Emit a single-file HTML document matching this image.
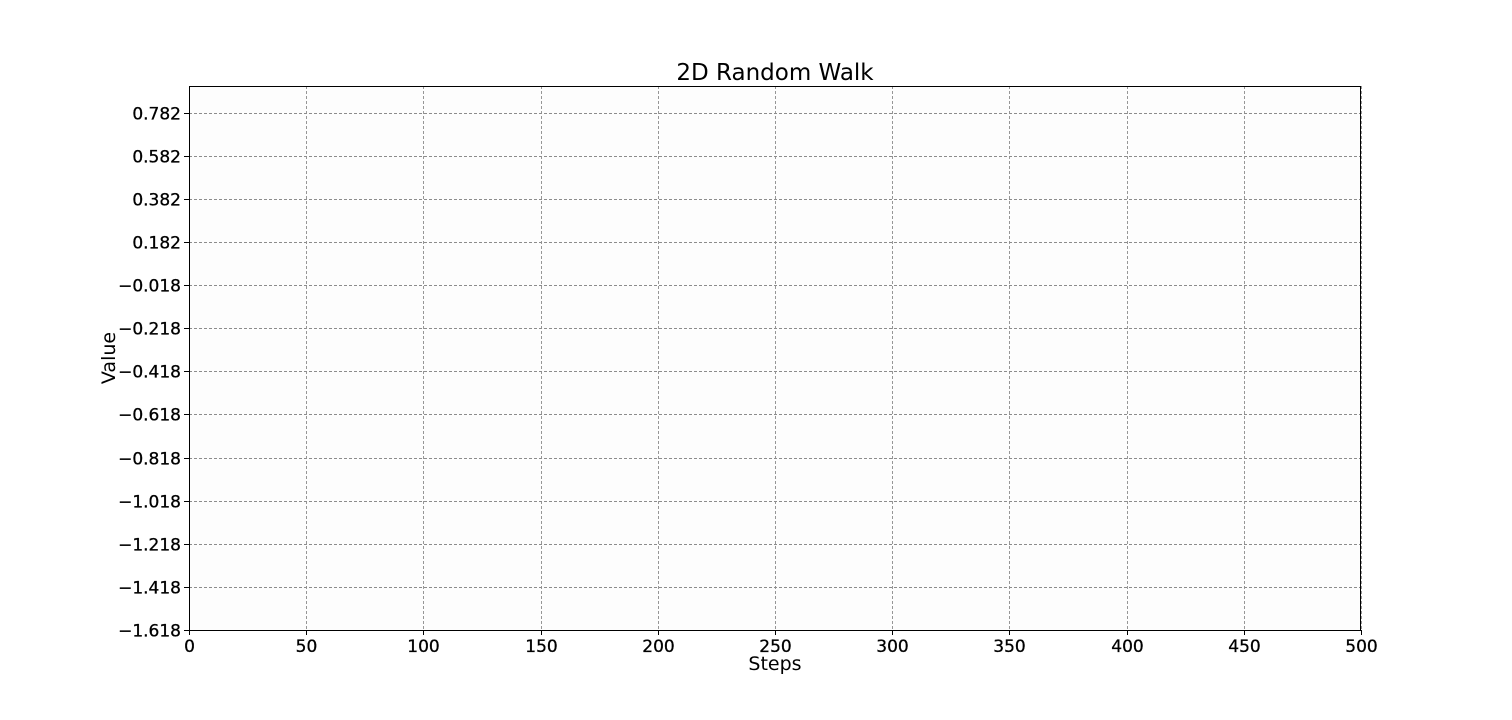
<!DOCTYPE html>
<html><head><meta charset="utf-8"><style>
html,body{margin:0;padding:0;background:#fff;}
svg{display:block;font-family:"DejaVu Sans","Liberation Sans",sans-serif;}
</style></head><body>
<svg id="chart" width="1512" height="720" viewBox="0 0 1512 720"></svg>
<script>
const xTicks = [0, 50, 100, 150, 200, 250, 300, 350, 400, 450, 500];
const yTicks = [0.782, 0.582, 0.382, 0.182, -0.018, -0.218, -0.418, -0.618, -0.818, -1.018, -1.218, -1.418, -1.618];
const xDomain = [0, 500];
const yDomain = [-1.618, 0.902];

const L = 189, R = 1361, T = 86, B = 630;
const y782 = 112.5;
const pxPerUnit = (B - y782) / (0.782 + 1.618);
function sx(v){ return L + (v - xDomain[0]) / (xDomain[1] - xDomain[0]) * (R - L); }
function sy(v){ return B - (v - yDomain[0]) * pxPerUnit; }

const NS = "http://www.w3.org/2000/svg";
const svg = document.getElementById('chart');
function mk(tag, attrs, parent){
  const e = document.createElementNS(NS, tag);
  for (const k in attrs) e.setAttribute(k, attrs[k]);
  (parent || svg).appendChild(e);
  return e;
}

const bg = mk('rect', {x:L, y:T, width:R-L, height:B-T, fill:'#fdfdfd'});



const grid = mk('g', {stroke:'#8c8c8c', 'stroke-width':0.9, 'stroke-dasharray':'3,2'});


xTicks.forEach(v => {
  const x = Math.round(sx(v)) + 0.5;
  const l = mk('line', {x1:x, x2:x, y1:T, y2:B}, grid);
  
  
});
yTicks.forEach(v => {
  const y = Math.round(sy(v)) + 0.5;
  const l = mk('line', {x1:L, x2:R, y1:y, y2:y}, grid);
  
  
});

const frame = mk('rect', {x:L+0.5, y:T+0.5, width:R-L-1, height:B-T, fill:'none', stroke:'#000', 'stroke-width':1});



xTicks.forEach(v => {
  const x = Math.round(sx(v)) + 0.5;
  mk('line', {x1:x, x2:x, y1:B, y2:B+5, stroke:'#000'});
  const t = mk('text', {x:x, y:B+22, 'font-size':17, 'text-anchor':'middle', fill:'#000', stroke:'#000', 'stroke-width':0.3});
  t.textContent = String(v);
  
  
});
yTicks.forEach(v => {
  const y = Math.round(sy(v)) + 0.5;
  mk('line', {x1:L-5, x2:L, y1:y, y2:y, stroke:'#000'});
  const t = mk('text', {x:L-8, y:y+6, 'font-size':17, 'text-anchor':'end', fill:'#000', stroke:'#000', 'stroke-width':0.3});
  t.textContent = (v < 0 ? '\u2212' : '') + Math.abs(v).toFixed(3);
  
  
});

const title = mk('text', {x:(L+R)/2, y:80, 'font-size':23, 'text-anchor':'middle', fill:'#000'});
title.textContent = '2D Random Walk';



const xl = mk('text', {x:(L+R)/2, y:670, 'font-size':19, 'text-anchor':'middle', fill:'#000'});
xl.textContent = 'Steps';



const yl = mk('text', {x:0, y:0, 'font-size':19, 'text-anchor':'middle', fill:'#000', transform:'translate(115,358) rotate(-90)'});
yl.textContent = 'Value';


</script>
</body></html>
